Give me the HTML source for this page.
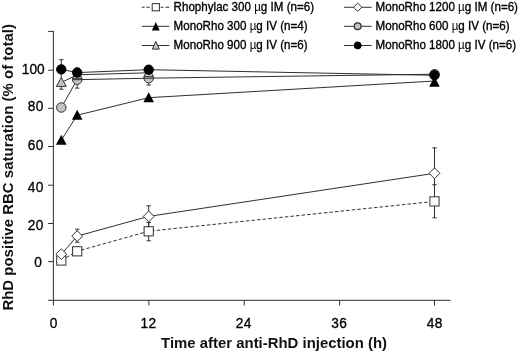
<!DOCTYPE html>
<html><head><meta charset="utf-8"><title>RhD positive RBC saturation</title>
<style>
html,body{margin:0;padding:0;background:#fff;}
body{width:520px;height:353px;overflow:hidden;}
svg{display:block;}
text{font-family:"Liberation Sans",Arial,sans-serif;fill:#111;}
.t{font-size:13.7px;fill:#000;stroke:#000;stroke-width:0.3px;}
.b{font-size:14.9px;font-weight:bold;}
.l{font-size:11.6px;fill:#000;stroke:#000;stroke-width:0.32px;}
.mu{stroke:none;}
</style></head><body>
<svg width="520" height="353" viewBox="0 0 520 353">
<rect width="520" height="353" fill="#fff"/>

<g stroke="#303030" stroke-width="1" fill="none">
<path d="M53.4 30.8V300.3"/>
<path d="M48.1 300.3H450.4"/>
<path d="M48.1 31.4H53.4"/>
<path d="M48.1 70.2H53.4"/>
<path d="M48.1 108.3H53.4"/>
<path d="M48.1 146.5H53.4"/>
<path d="M48.1 185.2H53.4"/>
<path d="M48.1 223.5H53.4"/>
<path d="M48.1 261.6H53.4"/>
<path d="M53.4 300.3V305.5"/>
<path d="M148.9 300.3V305.5"/>
<path d="M244.2 300.3V305.5"/>
<path d="M339.6 300.3V305.5"/>
<path d="M434.5 300.3V305.5"/>
</g>
<text class="t" transform="translate(44.7,73.85) scale(1,1.12)" text-anchor="end" letter-spacing="0">100</text>
<text class="t" transform="translate(43.8,111.4) scale(1,1.12)" text-anchor="end" letter-spacing="0.375">80</text>
<text class="t" transform="translate(43.8,150.4) scale(1,1.12)" text-anchor="end" letter-spacing="0.375">60</text>
<text class="t" transform="translate(43.8,191.9) scale(1,1.12)" text-anchor="end" letter-spacing="0.375">40</text>
<text class="t" transform="translate(43.8,229.9) scale(1,1.12)" text-anchor="end" letter-spacing="0.375">20</text>
<text class="t" transform="translate(41.75,267.3) scale(1,1.12)" text-anchor="end" letter-spacing="0">0</text>
<text class="t" transform="translate(53.5,328.4) scale(1,1.12)" text-anchor="middle" letter-spacing="0">0</text>
<text class="t" transform="translate(148.4,328.4) scale(1,1.12)" text-anchor="middle" letter-spacing="0.375">12</text>
<text class="t" transform="translate(243.7,328.4) scale(1,1.12)" text-anchor="middle" letter-spacing="0.375">24</text>
<text class="t" transform="translate(339.3,328.4) scale(1,1.12)" text-anchor="middle" letter-spacing="0.375">36</text>
<text class="t" transform="translate(434.8,328.4) scale(1,1.12)" text-anchor="middle" letter-spacing="0.375">48</text>
<text class="b" transform="translate(161.1,347.5) scale(1,0.98)" textLength="225.9">Time after anti-RhD injection (h)</text>
<text class="b" transform="translate(13.3,310.6) rotate(-90) scale(1,0.98)" textLength="286.6">RhD positive RBC saturation (% of total)</text>
<polyline points="61.3,260.5 77.2,251.2 148.7,231.2 434.5,201.4" fill="none" stroke="#303030" stroke-width="1" stroke-dasharray="3.4 2.2"/>
<polyline points="61.3,254.2 77.2,236.1 148.7,216.4 434.5,173.3" fill="none" stroke="#303030" stroke-width="1"/>
<path d="M77.2 229.2V242.2M75.0 229.2H79.4M75.0 242.2H79.4" fill="none" stroke="#303030" stroke-width="1"/>
<path d="M148.7 205.8V226.8M146.5 205.8H150.9M146.5 226.8H150.9" fill="none" stroke="#303030" stroke-width="1"/>
<path d="M148.7 222.5V240.8M146.5 222.5H150.9M146.5 240.8H150.9" fill="none" stroke="#303030" stroke-width="1"/>
<path d="M434.5 147.9V198.5M432.3 147.9H436.7M432.3 198.5H436.7" fill="none" stroke="#303030" stroke-width="1"/>
<path d="M434.5 184.7V217.8M432.3 184.7H436.7M432.3 217.8H436.7" fill="none" stroke="#303030" stroke-width="1"/>
<path d="M77.2 247.5V255.0" fill="none" stroke="#303030" stroke-width="1"/>
<rect x="56.7" y="255.9" width="9.2" height="9.2" fill="#fff" stroke="#303030" stroke-width="1"/>
<rect x="72.6" y="246.7" width="9.2" height="9.2" fill="#fff" stroke="#303030" stroke-width="1"/>
<rect x="144.1" y="226.7" width="9.2" height="9.2" fill="#fff" stroke="#303030" stroke-width="1"/>
<rect x="429.9" y="196.8" width="9.2" height="9.2" fill="#fff" stroke="#303030" stroke-width="1"/>
<path d="M61.3 248.8L66.7 254.2L61.3 259.6L55.9 254.2Z" fill="#fff" stroke="#303030" stroke-width="1"/>
<path d="M77.2 230.7L82.6 236.1L77.2 241.5L71.8 236.1Z" fill="#fff" stroke="#303030" stroke-width="1"/>
<path d="M148.7 211.0L154.1 216.4L148.7 221.8L143.3 216.4Z" fill="#fff" stroke="#303030" stroke-width="1"/>
<path d="M434.5 167.9L439.9 173.3L434.5 178.7L429.1 173.3Z" fill="#fff" stroke="#303030" stroke-width="1"/>
<polyline points="61.3,140.1 77.2,115.2 148.7,97.7 434.5,81.0" fill="none" stroke="#303030" stroke-width="1"/>
<polyline points="61.3,82.5 77.2,74.8 148.7,72.8" fill="none" stroke="#303030" stroke-width="1"/>
<polyline points="61.3,107.5 77.2,79.7 148.7,78.2 434.5,74.2" fill="none" stroke="#303030" stroke-width="1"/>
<polyline points="61.3,69.4 77.2,72.6 148.7,69.7 434.5,75.3" fill="none" stroke="#303030" stroke-width="1"/>
<path d="M61.3 59.7V89.2M59.1 59.7H63.5M59.1 89.2H63.5" fill="none" stroke="#303030" stroke-width="1"/>
<path d="M77.2 68.0V88.1M75.0 68.0H79.4M75.0 88.1H79.4" fill="none" stroke="#303030" stroke-width="1"/>
<path d="M148.7 66.0V85.0M146.5 66.0H150.9M146.5 85.0H150.9" fill="none" stroke="#303030" stroke-width="1"/>
<path d="M61.3 134.7L66.6 144.7H56.0Z" fill="#000"/>
<path d="M77.2 109.8L82.5 119.8H71.9Z" fill="#000"/>
<path d="M148.7 92.3L154.0 102.3H143.4Z" fill="#000"/>
<path d="M434.5 76.7L439.8 86.7H429.2Z" fill="#000"/>
<circle cx="61.3" cy="107.5" r="4.75" fill="#c4c4c4" stroke="#303030" stroke-width="1"/>
<circle cx="77.2" cy="79.7" r="4.75" fill="#c4c4c4" stroke="#303030" stroke-width="1"/>
<circle cx="148.7" cy="78.2" r="4.75" fill="#c4c4c4" stroke="#303030" stroke-width="1"/>
<circle cx="434.5" cy="74.2" r="4.75" fill="#c4c4c4" stroke="#303030" stroke-width="1"/>
<path d="M72.6 79.7H81.8" stroke="#303030" stroke-width="1" fill="none"/>
<path d="M144.1 78.2H153.3" stroke="#303030" stroke-width="1" fill="none"/>
<path d="M61.3 77.6L66.2 86.4H56.4Z" fill="#c4c4c4" stroke="#303030" stroke-width="1" stroke-linejoin="miter"/>
<path d="M77.2 69.9L82.1 78.7H72.3Z" fill="#c4c4c4" stroke="#303030" stroke-width="1" stroke-linejoin="miter"/>
<path d="M148.7 67.9L153.6 76.7H143.8Z" fill="#c4c4c4" stroke="#303030" stroke-width="1" stroke-linejoin="miter"/>
<circle cx="61.3" cy="69.4" r="4.7" fill="#000" stroke="#000" stroke-width="1"/>
<circle cx="77.2" cy="72.6" r="4.7" fill="#000" stroke="#000" stroke-width="1"/>
<circle cx="148.7" cy="69.7" r="4.7" fill="#000" stroke="#000" stroke-width="1"/>
<circle cx="434.5" cy="75.3" r="4.7" fill="#000" stroke="#000" stroke-width="1"/>
<path d="M141.8 7.25H144.6M146.4 7.25H149.6M160.6 7.25H163.5M165.5 7.25H169.3" stroke="#303030" stroke-width="1" fill="none"/>
<rect x="152.2" y="3.6" width="7.2" height="7.2" fill="#fff" stroke="#303030" stroke-width="1"/>
<path d="M141.8 26.3H169.3M141.8 45.5H169.3" stroke="#303030" stroke-width="1" fill="none"/>
<path d="M155.8 22.1L159.7 30.6H151.9Z" fill="#000"/>
<path d="M155.8 41.5L159.3 49.1H152.3Z" fill="#c4c4c4" stroke="#303030" stroke-width="1" stroke-linejoin="miter"/>
<path d="M344.0 7.25H371.7M344.0 26.3H371.7M344.0 45.5H371.7" stroke="#303030" stroke-width="1" fill="none"/>
<path d="M357.7 3.2L361.8 7.2L357.7 11.3L353.6 7.2Z" fill="#fff" stroke="#303030" stroke-width="1"/>
<circle cx="357.7" cy="26.3" r="3.4" fill="#c4c4c4" stroke="#303030" stroke-width="1.3"/>
<circle cx="357.7" cy="45.4" r="3.5" fill="#000" stroke="#000" stroke-width="1"/>
<text class="l" transform="translate(173.6,10.7) scale(1,1.04)">Rhophylac 300 <tspan class="mu">µ</tspan>g IM (n=6)</text>
<text class="l" transform="translate(173.6,30.0) scale(1,1.04)">MonoRho 300 <tspan class="mu">µ</tspan>g IV (n=4)</text>
<text class="l" transform="translate(173.6,49.2) scale(1,1.04)">MonoRho 900 <tspan class="mu">µ</tspan>g IV (n=6)</text>
<text class="l" transform="translate(375.6,10.7) scale(1,1.04)">MonoRho 1200 <tspan class="mu">µ</tspan>g IM (n=6)</text>
<text class="l" transform="translate(375.6,30.0) scale(1,1.04)">MonoRho 600 <tspan class="mu">µ</tspan>g IV (n=6)</text>
<text class="l" transform="translate(375.6,49.2) scale(1,1.04)">MonoRho 1800 <tspan class="mu">µ</tspan>g IV (n=6)</text>
</svg></body></html>
